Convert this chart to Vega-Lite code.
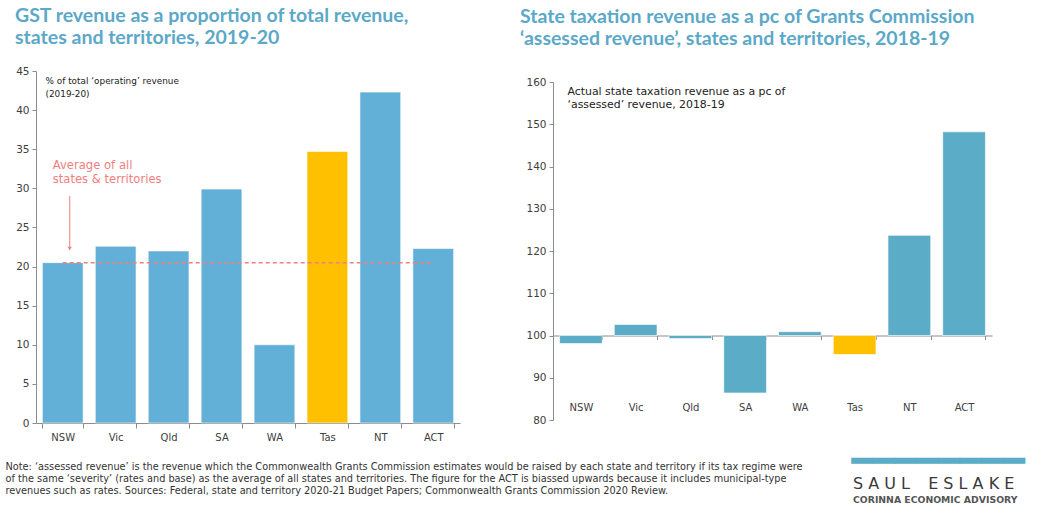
{
  "$schema": "https://vega.github.io/schema/vega-lite/v6.json",
  "background": "white",
  "padding": {"left": 5, "top": 6, "right": 5, "bottom": 2},
  "config": {"view": {"stroke": null}, "font": "DejaVu Sans"},
  "title": {
    "text": "S A U L \u2002 E S L A K E",
    "subtitle": "CORINNA ECONOMIC ADVISORY",
    "orient": "bottom", "anchor": "start", "frame": "group",
    "offset": -19, "dx": 817,
    "font": "DejaVu Sans", "fontSize": 16, "fontWeight": "normal", "color": "#3a3a3a",
    "subtitleFont": "DejaVu Sans", "subtitleFontSize": 9.3, "subtitleFontWeight": "bold",
    "subtitleColor": "#555555", "subtitlePadding": 4
  },
  "bounds": "flush",
  "spacing": 93,
  "hconcat": [
    {
      "width": 424, "height": 352,
      "title": {
        "text": ["GST revenue as a proportion of total revenue,", "states and territories, 2019-20"],
        "anchor": "start", "frame": "group", "dx": -21, "offset": 17.5,
        "font": "Lato", "fontSize": 19.5, "fontWeight": "bold", "color": "#5BA8C8", "lineHeight": 22
      },
      "data": {"values": [
        {"state": "NSW", "value": 20.5},
        {"state": "Vic", "value": 22.6},
        {"state": "Qld", "value": 22.0},
        {"state": "SA", "value": 29.9},
        {"state": "WA", "value": 10.0},
        {"state": "Tas", "value": 34.7},
        {"state": "NT", "value": 42.3},
        {"state": "ACT", "value": 22.3}
      ]},
      "layer": [
        {
          "mark": {"type": "bar", "stroke": "white", "strokeOpacity": 0.6, "strokeWidth": 1},
          "encoding": {
            "x": {
              "field": "state", "type": "nominal",
              "sort": ["NSW", "Vic", "Qld", "SA", "WA", "Tas", "NT", "ACT"],
              "scale": {"paddingInner": 0.23, "paddingOuter": 0.12},
              "axis": {
                "labelAngle": 0, "tickBand": "extent", "tickSize": 5,
                "domainColor": "#8c8c8c", "tickColor": "#8c8c8c",
                "labelColor": "#404040", "labelFontSize": 10, "labelPadding": 4,
                "title": [
                  "Note: ‘assessed revenue’ is the revenue which the Commonwealth Grants Commission estimates would be raised by each state and territory if its tax regime were",
                  "of the same ‘severity’ (rates and base) as the average of all states and territories. The figure for the ACT is biassed upwards because it includes municipal-type",
                  "revenues such as rates. Sources: Federal, state and territory 2020-21 Budget Papers; Commonwealth Grants Commission 2020 Review."
                ],
                "titleAlign": "left", "titleBaseline": "top", "titleAngle": 0,
                "titleX": -31, "titleY": 38,
                "titleFont": "DejaVu Sans", "titleFontSize": 9.75, "titleFontWeight": "normal",
                "titleColor": "#333333", "titleLineHeight": 12
              }
            },
            "y": {
              "field": "value", "type": "quantitative",
              "scale": {"domain": [0, 45], "nice": false},
              "axis": {
                "values": [0, 5, 10, 15, 20, 25, 30, 35, 40, 45],
                "labelOverlap": false,
                "grid": false, "tickSize": 4,
                "domainColor": "#8c8c8c", "tickColor": "#8c8c8c",
                "labelColor": "#404040", "labelFontSize": 10.5, "labelPadding": 3,
                "title": ["% of total ‘operating’ revenue", "(2019-20)"],
                "titleAngle": 0, "titleAlign": "left", "titleBaseline": "top",
                "titleX": 9, "titleY": 5,
                "titleFont": "DejaVu Sans", "titleFontSize": 8.9, "titleFontWeight": "normal",
                "titleColor": "#222222", "titleLineHeight": 13
              }
            },
            "color": {
              "condition": {"test": "datum.state === 'Tas'", "value": "#FFC000"},
              "value": "#62AFD7"
            }
          }
        },
        {
          "data": {"values": [{"label": "average"}]},
          "mark": {"type": "rule", "strokeDash": [4, 3], "color": "#F08080", "strokeWidth": 1.5},
          "encoding": {
            "x": {"datum": "NSW", "type": "nominal"},
            "x2": {"datum": "ACT"},
            "y": {"datum": 20.5, "type": "quantitative", "axis": {
                "values": [0, 5, 10, 15, 20, 25, 30, 35, 40, 45],
                "labelOverlap": false,
                "grid": false, "tickSize": 4,
                "domainColor": "#8c8c8c", "tickColor": "#8c8c8c",
                "labelColor": "#404040", "labelFontSize": 10.5, "labelPadding": 3,
                "title": ["% of total ‘operating’ revenue", "(2019-20)"],
                "titleAngle": 0, "titleAlign": "left", "titleBaseline": "top",
                "titleX": 9, "titleY": 5,
                "titleFont": "DejaVu Sans", "titleFontSize": 8.9, "titleFontWeight": "normal",
                "titleColor": "#222222", "titleLineHeight": 13
              }}
          }
        },
        {
          "data": {"values": [{"label": "arrow"}]},
          "mark": {"type": "rule", "color": "#F08080", "strokeWidth": 1, "xOffset": 7},
          "encoding": {
            "x": {"datum": "NSW", "type": "nominal"},
            "y": {"datum": 29.0, "type": "quantitative", "axis": {
                "values": [0, 5, 10, 15, 20, 25, 30, 35, 40, 45],
                "labelOverlap": false,
                "grid": false, "tickSize": 4,
                "domainColor": "#8c8c8c", "tickColor": "#8c8c8c",
                "labelColor": "#404040", "labelFontSize": 10.5, "labelPadding": 3,
                "title": ["% of total ‘operating’ revenue", "(2019-20)"],
                "titleAngle": 0, "titleAlign": "left", "titleBaseline": "top",
                "titleX": 9, "titleY": 5,
                "titleFont": "DejaVu Sans", "titleFontSize": 8.9, "titleFontWeight": "normal",
                "titleColor": "#222222", "titleLineHeight": 13
              }},
            "y2": {"datum": 22.4}
          }
        },
        {
          "data": {"values": [{"label": "arrowhead"}]},
          "mark": {"type": "point", "shape": "triangle-down", "filled": true, "color": "#F08080", "size": 18, "opacity": 1, "xOffset": 7},
          "encoding": {
            "x": {"datum": "NSW", "type": "nominal"},
            "y": {"datum": 22.3, "type": "quantitative", "axis": {
                "values": [0, 5, 10, 15, 20, 25, 30, 35, 40, 45],
                "labelOverlap": false,
                "grid": false, "tickSize": 4,
                "domainColor": "#8c8c8c", "tickColor": "#8c8c8c",
                "labelColor": "#404040", "labelFontSize": 10.5, "labelPadding": 3,
                "title": ["% of total ‘operating’ revenue", "(2019-20)"],
                "titleAngle": 0, "titleAlign": "left", "titleBaseline": "top",
                "titleX": 9, "titleY": 5,
                "titleFont": "DejaVu Sans", "titleFontSize": 8.9, "titleFontWeight": "normal",
                "titleColor": "#222222", "titleLineHeight": 13
              }}
          }
        },
        {
          "data": {"values": [{"label": "Average of all states & territories"}]},
          "mark": {"type": "text", "text": ["Average of all", "states & territories"], "align": "left", "baseline": "middle", "dx": -10, "font": "DejaVu Sans", "fontSize": 11.6, "lineHeight": 14, "color": "#F08080"},
          "encoding": {
            "x": {"datum": "NSW", "type": "nominal"},
            "y": {"datum": 32.8, "type": "quantitative", "axis": {
                "values": [0, 5, 10, 15, 20, 25, 30, 35, 40, 45],
                "labelOverlap": false,
                "grid": false, "tickSize": 4,
                "domainColor": "#8c8c8c", "tickColor": "#8c8c8c",
                "labelColor": "#404040", "labelFontSize": 10.5, "labelPadding": 3,
                "title": ["% of total ‘operating’ revenue", "(2019-20)"],
                "titleAngle": 0, "titleAlign": "left", "titleBaseline": "top",
                "titleX": 9, "titleY": 5,
                "titleFont": "DejaVu Sans", "titleFontSize": 8.9, "titleFontWeight": "normal",
                "titleColor": "#222222", "titleLineHeight": 13
              }}
          }
        }
      ]
    },
    {
      "bounds": "flush",
      "spacing": 10,
      "vconcat": [
        {"width": 439, "height": 1, "data": {"values": []}, "mark": "point"},
        {
          "width": 439, "height": 338,
          "title": {
            "text": ["State taxation revenue as a pc of Grants Commission", "‘assessed revenue’, states and territories, 2018-19"],
            "anchor": "start", "frame": "group", "dx": -33, "offset": 27.5,
            "font": "Lato", "fontSize": 19.5, "fontWeight": "bold", "color": "#5BA8C8", "lineHeight": 22
          },
          "data": {"values": [
            {"state": "NSW", "value": 98.1},
            {"state": "Vic", "value": 102.6},
            {"state": "Qld", "value": 99.3},
            {"state": "SA", "value": 86.4},
            {"state": "WA", "value": 100.9},
            {"state": "Tas", "value": 95.5},
            {"state": "NT", "value": 123.7},
            {"state": "ACT", "value": 148.2}
          ]},
          "mark": {"type": "bar", "stroke": "white", "strokeOpacity": 0.6, "strokeWidth": 1},
          "encoding": {
            "x": {
              "field": "state", "type": "nominal",
              "sort": ["NSW", "Vic", "Qld", "SA", "WA", "Tas", "NT", "ACT"],
              "scale": {"paddingInner": 0.22, "paddingOuter": 0.12},
              "axis": {
                "labelAngle": 0, "tickBand": "extent", "tickSize": 4, "offset": -84.5,
                "domainColor": "#8c8c8c", "tickColor": "#8c8c8c",
                "labelColor": "#404040", "labelFontSize": 10, "labelPadding": 63,
                "title": "━━━━━━━━",
                "titleAlign": "left", "titleBaseline": "middle", "titleAngle": 0,
                "titleX": 298, "titleY": 126,
                "titleFont": "DejaVu Sans Mono", "titleFontSize": 36, "titleFontWeight": "normal",
                "titleColor": "#5AACC7"
              }
            },
            "y": {
              "field": "value", "type": "quantitative",
              "scale": {"domain": [80, 160], "nice": false},
              "axis": {
                "values": [80, 90, 100, 110, 120, 130, 140, 150, 160],
                "labelOverlap": false,
                "grid": false, "tickSize": 4,
                "domainColor": "#8c8c8c", "tickColor": "#8c8c8c",
                "labelColor": "#404040", "labelFontSize": 10.5, "labelPadding": 3,
                "title": ["Actual state taxation revenue as a pc of", "‘assessed’ revenue, 2018-19"],
                "titleAngle": 0, "titleAlign": "left", "titleBaseline": "top",
                "titleX": 14, "titleY": 3,
                "titleFont": "DejaVu Sans", "titleFontSize": 10.9, "titleFontWeight": "normal",
                "titleColor": "#222222", "titleLineHeight": 13
              }
            },
            "y2": {"datum": 100},
            "color": {
              "condition": {"test": "datum.state === 'Tas'", "value": "#FFC000"},
              "value": "#5AACC7"
            }
          }
        }
      ]
    }
  ]
}
